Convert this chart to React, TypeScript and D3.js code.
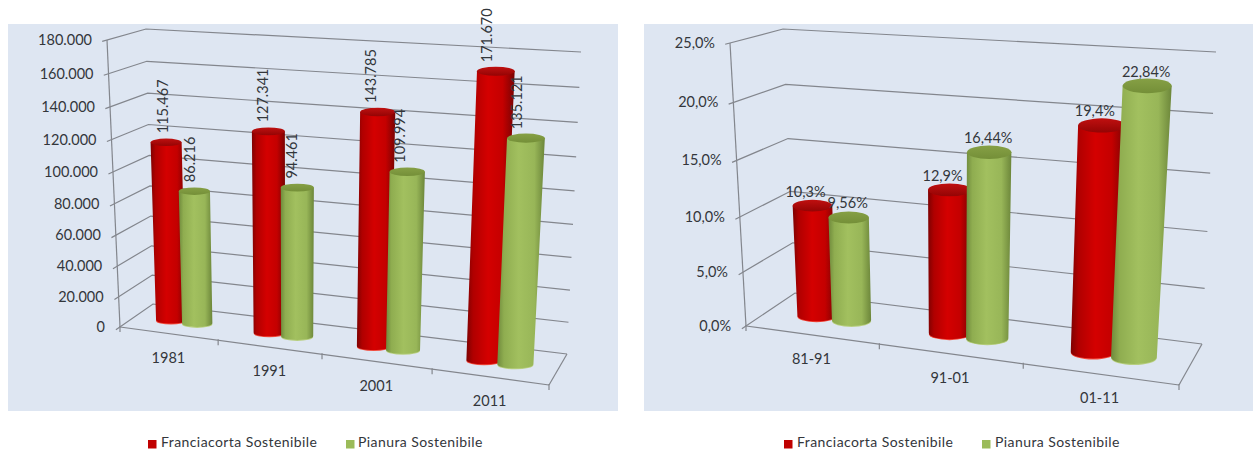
import React from "react";
import * as d3 from "d3";

// Population figures and percentage growth, one array per series.
const popYears = ["1981", "1991", "2001", "2011"];
const popFranciacorta = [115467, 127341, 143785, 171670];
const popPianura = [86216, 94461, 109994, 135121];
const popTicks = [0, 20000, 40000, 60000, 80000, 100000, 120000, 140000, 160000, 180000];

const growthPeriods = ["81-91", "91-01", "01-11"];
const growthFranciacorta = [10.3, 12.9, 19.4];
const growthPianura = [9.56, 16.44, 22.84];
const growthLabelsFranciacorta = ["10,3%", "12,9%", "19,4%"];
const growthLabelsPianura = ["9,56%", "16,44%", "22,84%"];
const growthTicks = [0, 5, 10, 15, 20, 25];

const seriesNames = ["Franciacorta Sostenibile", "Pianura Sostenibile"];

const FONT = "Lato, 'Open Sans', sans-serif";
const TEXT = "#33363b";
const GRID = "#83868d";

const it = d3.formatLocale({ decimal: ",", thousands: ".", grouping: [3], currency: ["", ""] });
const fmtInt = it.format(",d");
const fmtPct = (v: number) => it.format(".1f")(v) + "%";

type P = [number, number];
interface Box { fl: P; fr: P; bl: P; br: P; tfl: P; tfr: P; tbl: P; tbr: P; }

const mix = (a: P, b: P, t: number): P => [a[0] + (b[0] - a[0]) * t, a[1] + (b[1] - a[1]) * t];

// Perspective foreshortening along the category and value axes.
const PERSPECTIVE_X = 0.89;
const PERSPECTIVE_Y = 0.94;
const foreshorten = (u: number, k: number) => (k * u) / (1 + (k - 1) * u);

// Maps (category position, depth, normalised height) into the 3D box on screen.
function projector(box: Box) {
  return (u: number, depth: number, h: number): P => {
    const t = foreshorten(u, PERSPECTIVE_X);
    const floor = mix(mix(box.fl, box.fr, t), mix(box.bl, box.br, t), depth);
    const roof = mix(mix(box.tfl, box.tfr, t), mix(box.tbl, box.tbr, t), depth);
    return mix(floor, roof, foreshorten(h, PERSPECTIVE_Y));
  };
}

const line = (a: P, b: P) => `M${a[0]},${a[1]}L${b[0]},${b[1]}`;

function cylinderBody(tc: P, trx: number, bc: P, brx: number, ratio: number) {
  const p = d3.path();
  p.moveTo(tc[0] - trx, tc[1]);
  p.lineTo(bc[0] - brx, bc[1]);
  p.bezierCurveTo(bc[0] - brx, bc[1] + brx * ratio * 1.33, bc[0] + brx, bc[1] + brx * ratio * 1.33, bc[0] + brx, bc[1]);
  p.lineTo(tc[0] + trx, tc[1]);
  p.closePath();
  return p.toString();
}

interface ChartProps {
  box: Box;
  panel: [number, number, number, number];
  categories: string[];
  series: number[][];
  ticks: number[];
  tickText: (v: number) => string;
  radius: number;
  offset: number;
  ratio: number;
  barLabels: (s: number, i: number) => string;
  rotated: boolean;
  legendX: [number, number, number, number];
}

function Chart3D(c: ChartProps) {
  const project = projector(c.box);
  const height = d3.scaleLinear().domain([c.ticks[0], c.ticks[c.ticks.length - 1]]).range([0, 1]);
  const band = d3.scaleBand<string>().domain(c.categories).range([0, 1]);
  const { fl, fr, br } = c.box;
  const colors = ["red", "green"];

  return (
    <g>
      <rect x={c.panel[0]} y={c.panel[1]} width={c.panel[2]} height={c.panel[3]} fill="#dee6f2" />

      {/* Walls and floor outline */}
      <g stroke={GRID} strokeWidth={1.2} fill="none">
        {c.ticks.map((t) => {
          const h = height(t);
          const a = project(0, 0, h);
          const b = project(0, 1, h);
          const e = project(1, 1, h);
          const dx = a[0] - b[0];
          const dy = a[1] - b[1];
          const len = Math.hypot(dx, dy);
          return (
            <path key={t} d={`M${a[0] + (dx / len) * 5},${a[1] + (dy / len) * 5}L${b[0]},${b[1]}L${e[0]},${e[1]}`} />
          );
        })}
        <path d={line(project(0, 0, 0), project(0, 0, 1))} />
        <path d={line(fl, fr)} />
        <path d={line(fr, br)} />
        {d3.range(0, c.categories.length + 1).map((i) => {
          const q = project(i / c.categories.length, 0, 0);
          return <path key={i} d={`M${q[0]},${q[1] - 1}L${q[0]},${q[1] + 5}`} />;
        })}
      </g>

      {/* Value axis labels */}
      <g fontFamily={FONT} fontSize={14.5} fill={TEXT} textAnchor="end">
        {c.ticks.map((t) => {
          const a = project(0, 0, height(t));
          return (
            <text key={t} x={a[0] - 15} y={a[1] + 5}>
              {c.tickText(t)}
            </text>
          );
        })}
      </g>

      {/* Category labels below the front edge */}
      <g fontFamily={FONT} fontSize={14.5} fill={TEXT} textAnchor="middle">
        {c.categories.map((cat) => {
          const u = (band(cat) as number) + band.bandwidth() / 2;
          const q = project(u, 0, 0);
          return (
            <text key={cat} x={q[0]} y={q[1] + 29}>
              {cat}
            </text>
          );
        })}
      </g>

      {/* Cylinders, drawn series by series so the second overlaps the first */}
      {c.series.map((vals, s) =>
        vals.map((v, i) => {
          const u = (band(c.categories[i]) as number) + band.bandwidth() / 2 + (s === 0 ? -c.offset : c.offset);
          const h = height(v);
          const bc = project(u, 0.5, 0);
          const tc = project(u, 0.5, h);
          const brx = (project(u + c.radius, 0.5, 0)[0] - project(u - c.radius, 0.5, 0)[0]) / 2;
          const trx = (project(u + c.radius, 0.5, h)[0] - project(u - c.radius, 0.5, h)[0]) / 2;
          const tone = colors[s];
          return (
            <g key={`${s}-${i}`}>
              <ellipse cx={bc[0]} cy={bc[1] + 1} rx={brx} ry={brx * c.ratio} fill={s === 0 ? "#f24a3c" : "#b8cf80"} />
              <path d={cylinderBody(tc, trx, bc, brx, c.ratio)} fill={`url(#${tone}-body)`} />
              <ellipse cx={tc[0]} cy={tc[1]} rx={trx} ry={trx * c.ratio} fill={`url(#${tone}-top)`} />
            </g>
          );
        })
      )}

      {/* Value labels above each cylinder */}
      <g fontFamily={FONT} fontSize={14.5} fill={TEXT}>
        {c.series.map((vals, s) =>
          vals.map((v, i) => {
            const u = (band(c.categories[i]) as number) + band.bandwidth() / 2 + (s === 0 ? -c.offset : c.offset);
            const tc = project(u, 0.5, height(v));
            const label = c.barLabels(s, i);
            if (c.rotated) {
              const x = tc[0] - 3 - 7 * u;
              const y = tc[1] - 9;
              return (
                <text key={`${s}-${i}`} transform={`translate(${x},${y}) rotate(-90)`} dy="0.35em">
                  {label}
                </text>
              );
            }
            return (
              <text key={`${s}-${i}`} x={tc[0] + (s === 0 ? -7 : -1)} y={tc[1] - 9} textAnchor="middle">
                {label}
              </text>
            );
          })
        )}
      </g>

      {/* Legend */}
      <g fontFamily={FONT} fontSize={14} fill={TEXT} letterSpacing={0.42}>
        {seriesNames.map((name, s) => (
          <g key={name}>
            <rect x={c.legendX[s * 2]} y={440} width={8.5} height={8.5} fill={s === 0 ? "#c00000" : "#9bbb59"} />
            <text x={c.legendX[s * 2 + 1]} y={447}>
              {name}
            </text>
          </g>
        ))}
      </g>
    </g>
  );
}

function Gradients() {
  return (
    <defs>
      <linearGradient id="red-body" x1="0" x2="1" y1="0" y2="0">
        <stop offset="0" stopColor="#7e0202" />
        <stop offset="0.14" stopColor="#b00000" />
        <stop offset="0.45" stopColor="#d40000" />
        <stop offset="0.75" stopColor="#c40000" />
        <stop offset="1" stopColor="#780303" />
      </linearGradient>
      <linearGradient id="red-top" x1="0" x2="0" y1="0" y2="1">
        <stop offset="0" stopColor="#c01010" />
        <stop offset="1" stopColor="#930404" />
      </linearGradient>
      <linearGradient id="green-body" x1="0" x2="1" y1="0" y2="0">
        <stop offset="0" stopColor="#6f8a3c" />
        <stop offset="0.14" stopColor="#8fad50" />
        <stop offset="0.45" stopColor="#a2c05f" />
        <stop offset="0.78" stopColor="#98b658" />
        <stop offset="1" stopColor="#6c863a" />
      </linearGradient>
      <linearGradient id="green-top" x1="0" x2="0" y1="0" y2="1">
        <stop offset="0" stopColor="#86a045" />
        <stop offset="1" stopColor="#748f38" />
      </linearGradient>
    </defs>
  );
}

const popBox: Box = {
  fl: [120, 327], fr: [549, 385], bl: [153, 304], br: [567, 354],
  tfl: [107, 40], tfr: [569, 70], tbl: [146, 29], tbr: [581, 52],
};
const growthBox: Box = {
  fl: [746, 326], fr: [1179, 385], bl: [795, 293], br: [1202, 344],
  tfl: [730, 43], tfr: [1203, 72], tbl: [783, 29], tbr: [1216, 52],
};

export default function App() {
  return (
    <svg
      width={1253}
      height={450}
      viewBox="0 0 1253 450"
      style={{ position: "absolute", left: 0, top: 0, display: "block", background: "#fff" }}
    >
      <Gradients />
      <Chart3D
        box={popBox}
        panel={[8, 24, 610, 387]}
        categories={popYears}
        series={[popFranciacorta, popPianura]}
        ticks={popTicks}
        tickText={(v) => fmtInt(v)}
        radius={0.039}
        offset={0.034}
        ratio={0.24}
        barLabels={(s, i) => fmtInt(s === 0 ? popFranciacorta[i] : popPianura[i])}
        rotated
        legendX={[148, 161, 346, 358]}
      />
      <Chart3D
        box={growthBox}
        panel={[644, 24, 609, 387]}
        categories={growthPeriods}
        series={[growthFranciacorta, growthPianura]}
        ticks={growthTicks}
        tickText={fmtPct}
        radius={0.05}
        offset={0.045}
        ratio={0.3}
        barLabels={(s, i) => (s === 0 ? growthLabelsFranciacorta[i] : growthLabelsPianura[i])}
        rotated={false}
        legendX={[784, 797, 982, 995]}
      />
    </svg>
  );
}
